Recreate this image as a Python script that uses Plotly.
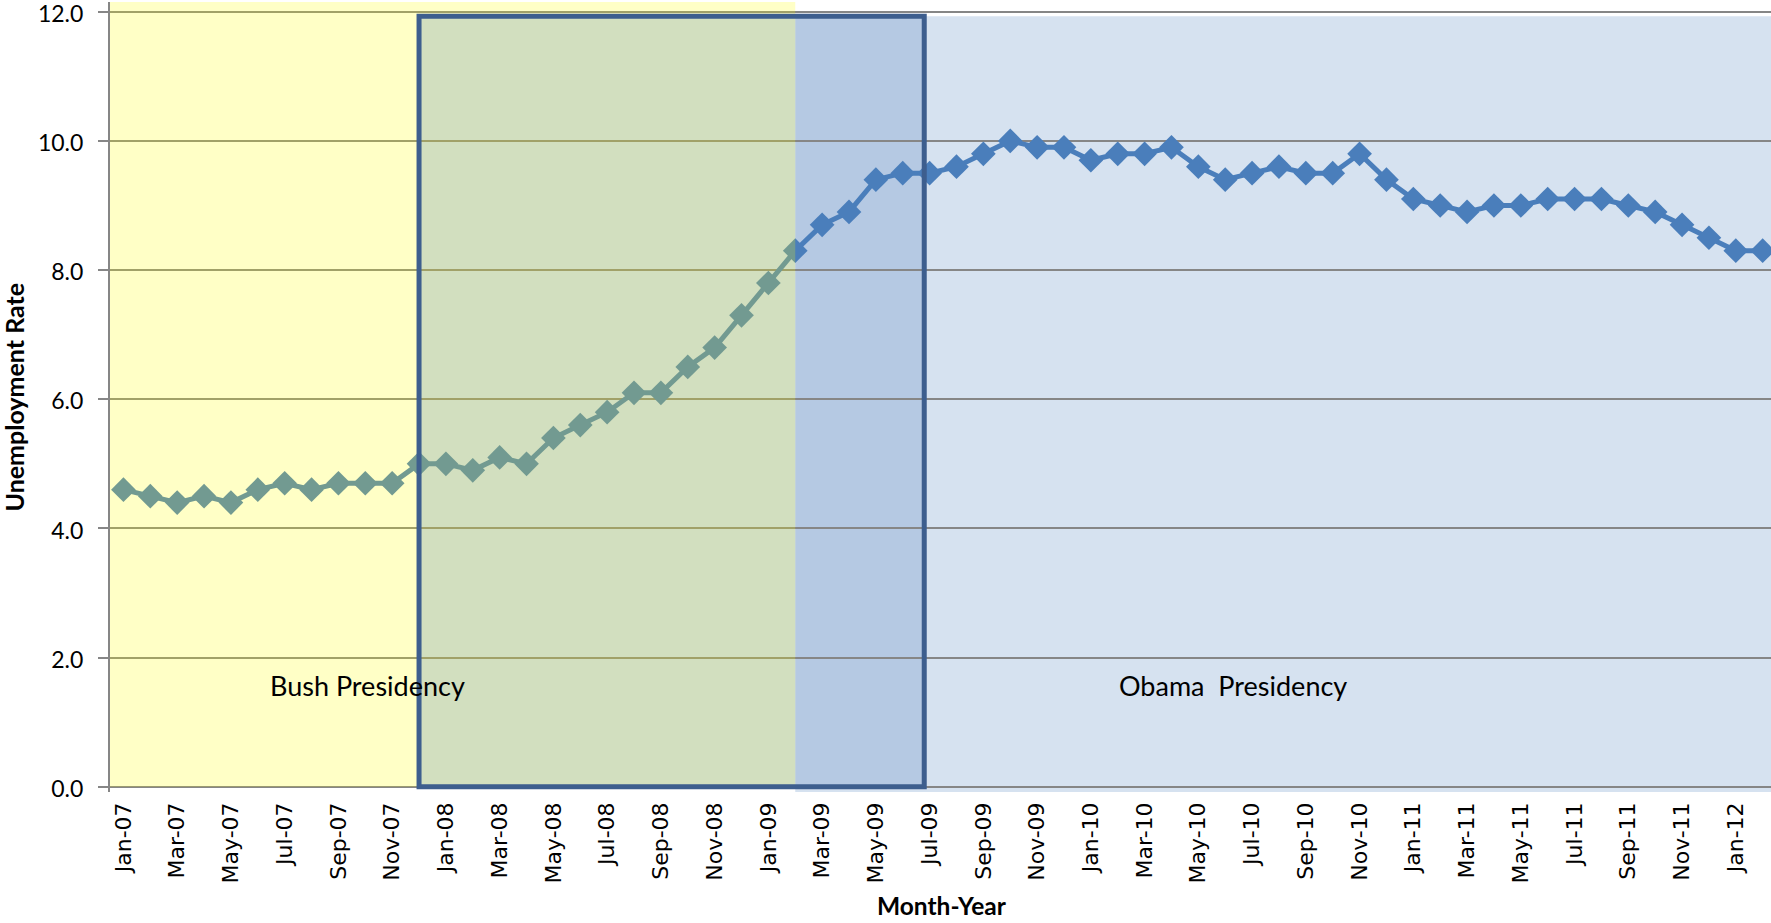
import plotly.graph_objects as go

months = [
    "Jan-07", "Feb-07", "Mar-07", "Apr-07", "May-07", "Jun-07", "Jul-07", "Aug-07", "Sep-07", "Oct-07", "Nov-07", "Dec-07",
    "Jan-08", "Feb-08", "Mar-08", "Apr-08", "May-08", "Jun-08", "Jul-08", "Aug-08", "Sep-08", "Oct-08", "Nov-08", "Dec-08",
    "Jan-09", "Feb-09", "Mar-09", "Apr-09", "May-09", "Jun-09", "Jul-09", "Aug-09", "Sep-09", "Oct-09", "Nov-09", "Dec-09",
    "Jan-10", "Feb-10", "Mar-10", "Apr-10", "May-10", "Jun-10", "Jul-10", "Aug-10", "Sep-10", "Oct-10", "Nov-10", "Dec-10",
    "Jan-11", "Feb-11", "Mar-11", "Apr-11", "May-11", "Jun-11", "Jul-11", "Aug-11", "Sep-11", "Oct-11", "Nov-11", "Dec-11",
    "Jan-12", "Feb-12",
]

rate = [
    4.6, 4.5, 4.4, 4.5, 4.4, 4.6, 4.7, 4.6, 4.7, 4.7, 4.7, 5.0,
    5.0, 4.9, 5.1, 5.0, 5.4, 5.6, 5.8, 6.1, 6.1, 6.5, 6.8, 7.3,
    7.8, 8.3, 8.7, 8.9, 9.4, 9.5, 9.5, 9.6, 9.8, 10.0, 9.9, 9.9,
    9.7, 9.8, 9.8, 9.9, 9.6, 9.4, 9.5, 9.6, 9.5, 9.5, 9.8, 9.4,
    9.1, 9.0, 8.9, 9.0, 9.0, 9.1, 9.1, 9.1, 9.0, 8.9, 8.7, 8.5,
    8.3, 8.3,
]

tick_labels = [
    "Jan-07", "Mar-07", "May-07", "Jul-07", "Sep-07", "Nov-07",
    "Jan-08", "Mar-08", "May-08", "Jul-08", "Sep-08", "Nov-08",
    "Jan-09", "Mar-09", "May-09", "Jul-09", "Sep-09", "Nov-09",
    "Jan-10", "Mar-10", "May-10", "Jul-10", "Sep-10", "Nov-10",
    "Jan-11", "Mar-11", "May-11", "Jul-11", "Sep-11", "Nov-11",
    "Jan-12",
]

y_ticks = [0, 2, 4, 6, 8, 10, 12]

# period markers (category index positions)
bush_end = months.index("Feb-09")
recession_start = months.index("Dec-07")
recession_end = months.index("Jun-09") + 0.8

fig = go.Figure()

fig.add_trace(go.Scatter(
    x=months, y=rate, mode="lines+markers",
    line=dict(color="#4A7EBB", width=5),
    marker=dict(symbol="diamond", size=19, color="#4A7EBB", line=dict(width=0)),
    showlegend=False, hoverinfo="skip",
))

shapes = [
    # Obama period background
    dict(type="rect", xref="x", yref="y", x0=bush_end, x1=len(months) + 1, y0=-0.08, y1=11.93,
         fillcolor="#D6E2F0", line=dict(width=0), layer="below"),
    # recession box fill (under Bush overlay)
    dict(type="rect", xref="x", yref="y", x0=recession_start, x1=bush_end, y0=0, y1=11.93,
         fillcolor="#C6D6F6", line=dict(width=0), layer="below"),
    # recession box fill (Obama part)
    dict(type="rect", xref="x", yref="y", x0=bush_end, x1=recession_end, y0=0, y1=11.93,
         fillcolor="#B5C9E3", line=dict(width=0), layer="below"),
    # Bush period translucent yellow overlay
    dict(type="rect", xref="x", yref="y", x0=-0.5, x1=bush_end, y0=0, y1=12.15,
         fillcolor="rgba(255,255,0,0.224)", line=dict(width=0), layer="above"),
    # recession box border
    dict(type="rect", xref="x", yref="y", x0=recession_start, x1=recession_end, y0=0, y1=11.93,
         fillcolor="rgba(0,0,0,0)", line=dict(color="#3D5E8E", width=5), layer="above"),
]

annotations = [
    dict(x=9.1, y=1.57, xref="x", yref="y", text="Bush Presidency", showarrow=False,
         font=dict(family="Lato", size=27, color="#000000")),
    dict(x=41.3, y=1.57, xref="x", yref="y", text="Obama\u00a0 Presidency", showarrow=False,
         font=dict(family="Lato", size=27, color="#000000")),
    dict(x=0.501, y=-0.144, xref="paper", yref="paper", text="<b>Month-Year</b>", showarrow=False,
         xanchor="center", yanchor="middle", font=dict(family="Lato", size=24.5, color="#000000")),
    dict(x=-0.0575, y=0.5, xref="paper", yref="paper", text="<b>Unemployment Rate</b>", showarrow=False,
         textangle=-90, xanchor="center", yanchor="middle", font=dict(family="Lato", size=25, color="#000000")),
]

fig.update_layout(
    width=1771, height=923,
    margin=dict(l=110, r=0, t=2, b=131, pad=0, autoexpand=False),
    paper_bgcolor="#FFFFFF", plot_bgcolor="#FFFFFF",
    shapes=shapes, annotations=annotations,
    showlegend=False,
)

fig.update_xaxes(
    type="category", categoryorder="array", categoryarray=months,
    range=[-0.5, 61.31], automargin=False,
    tickmode="array", tickvals=tick_labels, ticktext=tick_labels,
    tickangle=-90, tickfont=dict(family="DejaVu Sans", size=22, color="#000000"),
    showgrid=False, showline=False, zeroline=False, ticks="",
    ticklabelstandoff=5,
)

fig.update_yaxes(
    range=[-0.08, 12.15], automargin=False,
    tickmode="array", tickvals=y_ticks, ticktext=[f"{v:.1f}" for v in y_ticks],
    tickfont=dict(family="Lato", size=23, color="#000000"),
    ticklabeloverflow="allow", ticklabelshift=2,
    showgrid=True, gridcolor="#868686", gridwidth=2,
    zeroline=True, zerolinecolor="#868686", zerolinewidth=2,
    showline=True, linecolor="#868686", linewidth=2,
    ticks="outside", ticklen=10, tickwidth=2, tickcolor="#868686",
    ticklabelstandoff=10,
)

fig.write_html(
    "out.html",
    config={"displayModeBar": False},
    post_script="document.body.style.margin='0px';document.body.style.overflow='hidden';",
)
